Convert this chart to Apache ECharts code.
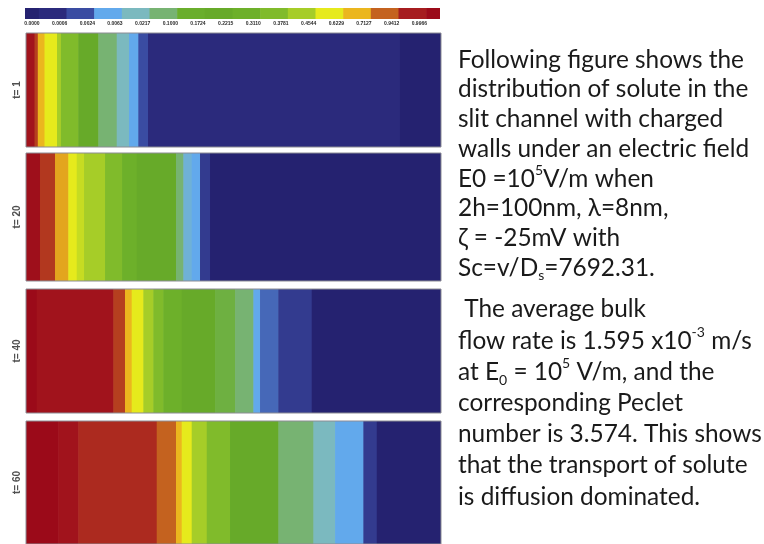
<!DOCTYPE html>
<html><head><meta charset="utf-8">
<script src="https://cdn.jsdelivr.net/npm/echarts@6/dist/echarts.min.js"></script>
<style>html,body{margin:0;padding:0;background:#fff}#c{width:764px;height:544px}</style>
</head><body><div id="c"></div>
<script>
// ---- data ----
const levelColors = ['#252270','#2b2a7c','#3a4ca2','#62a9ec','#7bb9bf','#77b372','#6aae2c','#67aa29','#6db02a','#80bb2b','#a6cd28','#e6ea1c','#ebb61e','#c4621f','#a61c1f','#9b0a19'];
const colorbarEdges = [-0.5,0,1,2,3,4,5,6,7,8,9,10,11,12,13,14,14.5];
const colorbarLevels = [0,1,2,3,4,5,6,7,8,9,10,11,12,13,14,15];
const tickLabels = ['0.0000','0.0006','0.0024','0.0063','0.0217','0.1000','0.1724','0.2215','0.3110','0.3781','0.4544','0.6229','0.7127','0.9412','0.9966'];
const timeLabels = ['t= 1','t= 20','t= 40','t= 60'];
const p1Edges = [0,2.05,2.84,4.46,7.47,8.43,12.60,17.42,21.86,24.82,27.06,29.40,90.12,100];
const p1Levels = [14.5,13.5,12,11,10,9,7,5,4,3,2,1,0];
const p2Edges = [0,3.37,6.99,10.19,12.22,13.98,19.04,23.14,26.68,36.15,37.91,39.93,41.93,44.34,100];
const p2Levels = [14.7,13.6,12.2,11,10.5,10,9,8,7,5,3.5,3,1.5,0];
const p3Edges = [0,2.58,21.04,23.86,25.47,28.27,30.68,33.09,37.52,45.55,50.37,54.78,56.39,60.80,68.85,100];
const p3Levels = [15,14.5,13.5,12,11,10,9,8,7,5.7,5,3,2.3,1.5,0];
const p4Edges = [0,7.78,12.60,31.50,36.15,37.52,39.93,43.55,49.16,60.80,69.24,74.47,81.29,84.52,100];
const p4Levels = [15,14.5,13.8,13,12,11,10,9,7,5,4,3,1.5,0];
const panelEdges = [p1Edges,p2Edges,p3Edges,p4Edges];
const panelLevels = [p1Levels,p2Levels,p3Levels,p4Levels];

// ---- layout ----
const panelTops = [33,153,289,421];
const panelHeights = [114,128,124,125];

function bands(edges, levels){
  return levels.map((lv,i)=>[edges[i],edges[i+1],lv]);
}
function renderBand(params, api){
  const p0 = api.coord([api.value(0),1]);
  const p1 = api.coord([api.value(1),0]);
  return {type:'rect', shape:{x:p0[0], y:p0[1], width:p1[0]-p0[0]+0.6, height:p1[1]-p0[1]},
          style:{fill:api.visual('color')}};
}

const grid=[], xAxis=[], yAxis=[], series=[];
// colorbar
grid.push({left:25, top:8, width:415, height:11});
xAxis.push({gridIndex:0, type:'value', min:-0.5, max:14.5, show:false});
yAxis.push({gridIndex:0, type:'value', min:0, max:1, show:false});
series.push({type:'custom', xAxisIndex:0, yAxisIndex:0, clip:true, renderItem:renderBand,
  dimensions:['x0','x1','level'], encode:{x:[0,1]}, data:bands(colorbarEdges,colorbarLevels)});
// colorbar tick labels
grid.push({left:32, top:19, width:415, height:1});
xAxis.push({gridIndex:1, type:'value', min:0, max:15, interval:1,
  axisLine:{show:false}, axisTick:{show:false}, splitLine:{show:false},
  axisLabel:{margin:1, fontSize:5, fontWeight:'bold', color:'#2a2a2a', fontFamily:'Liberation Sans',
    formatter:(v)=> tickLabels[Math.round(v)] || ''}});
yAxis.push({gridIndex:1, type:'value', show:false});
// panels
for(let k=0;k<4;k++){
  const gi = k+2;
  grid.push({left:26, top:panelTops[k], width:415, height:panelHeights[k], show:true,
    backgroundColor:'transparent', borderColor:'#8c8c94', borderWidth:1, z:10});
  xAxis.push({gridIndex:gi, type:'value', min:0, max:100, show:false});
  yAxis.push({gridIndex:gi, type:'value', min:0, max:1, name:timeLabels[k], nameLocation:'middle',
    nameRotate:90, nameGap:4,
    nameTextStyle:{fontSize:10, fontWeight:'bold', color:'#505050', fontFamily:'Liberation Sans'},
    axisLine:{show:false}, axisTick:{show:false}, axisLabel:{show:false}, splitLine:{show:false}});
  series.push({type:'custom', xAxisIndex:gi, yAxisIndex:gi, clip:true, renderItem:renderBand,
    dimensions:['x0','x1','level'], encode:{x:[0,1]}, data:bands(panelEdges[k],panelLevels[k])});
}

const txtFont = 'Lato';
const baseStyle = {fontFamily:txtFont, fontSize:24.4, fill:'#1a1a1a'};
const para1 = 'Following figure shows the\ndistribution of solute in the\nslit channel with charged\nwalls under an electric field\nE0 =10{sup|5}V/m when\n2h=100nm, λ=8nm,\nζ = -25mV with\nSc=v/D{sub|s}=7692.31.';
const para2 = ' The average bulk\nflow rate is 1.595 x10{sup|-3} m/s\nat E{sub|0} = 10{sup|5} V/m, and the\ncorresponding Peclet\nnumber is 3.574. This shows\nthat the transport of solute\nis diffusion dominated.';
function richFor(lh){
  return {
    sup:{fontFamily:txtFont, fontSize:14, color:'#1a1a1a', verticalAlign:'top', lineHeight:lh-4},
    sub:{fontFamily:txtFont, fontSize:14, color:'#1a1a1a', verticalAlign:'bottom', lineHeight:12}
  };
}

const chart = echarts.init(document.getElementById('c'), null, {renderer:'canvas'});
chart.setOption({
  animation:false,
  backgroundColor:'#fff',
  grid, xAxis, yAxis, series,
  visualMap:{type:'continuous', show:false, min:0, max:15, dimension:2,
    seriesIndex:[0,1,2,3,4], inRange:{color:levelColors}},
  graphic:[
    {type:'text', left:458, top:45, style:Object.assign({}, baseStyle, {text:para1, lineHeight:29.7, rich:richFor(29.7)})},
    {type:'text', left:458, top:294, style:Object.assign({}, baseStyle, {text:para2, lineHeight:31.2, rich:richFor(31.2)})}
  ]
});
</script></body></html>
